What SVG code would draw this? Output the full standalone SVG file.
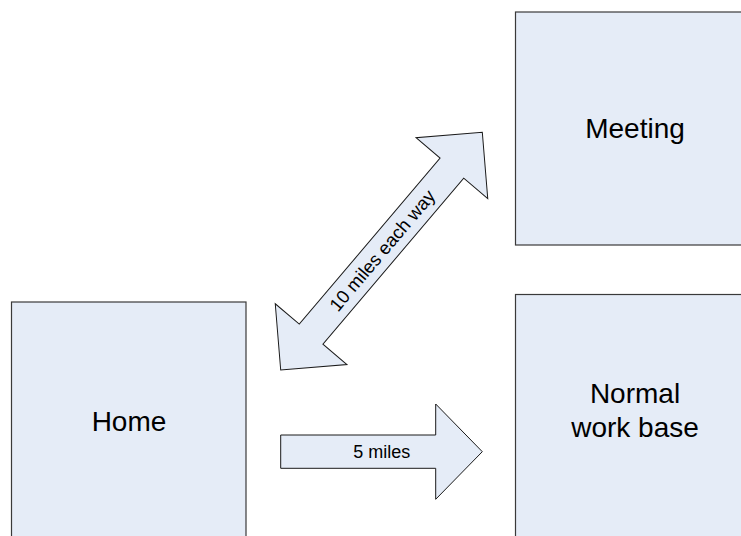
<svg xmlns="http://www.w3.org/2000/svg" width="741" height="536" viewBox="0 0 741 536">
<style>
.box{fill:#E5ECF7;stroke:#3a3a3a;stroke-width:1.2}
.arr{fill:#E5ECF7;stroke:#1a1a1a;stroke-width:1}
.lbl{font-family:"Liberation Sans",Arial,sans-serif;font-size:28px;fill:#000;text-anchor:middle}
.small{font-family:"Liberation Sans",Arial,sans-serif;font-size:18px;fill:#000;text-anchor:middle}
</style>
<rect width="741" height="536" fill="#fff"/>
<g id="home">
<rect class="box" x="11.5" y="302" width="234.5" height="250"/>
<text class="lbl" x="129" y="430.5">Home</text>
</g>
<g id="meeting">
<rect class="box" x="515.5" y="12" width="235" height="233"/>
<text class="lbl" x="635" y="138">Meeting</text>
</g>
<g id="normal-work-base">
<rect class="box" x="515.5" y="294.5" width="235" height="260"/>
<text class="lbl" x="635" y="403">Normal</text>
<text class="lbl" x="635" y="436.5">work base</text>
</g>
<g id="connectors">
<g id="arrow-10-miles" transform="translate(381.5,251.15) rotate(-49.7)">
<polygon class="arr" points="-155.85,0 -108.85,-47 -108.85,-15.5 108.85,-15.5 108.85,-47 155.85,0 108.85,47 108.85,15.5 -108.85,15.5 -108.85,47"/>
<text class="small" x="1" y="6.5" style="font-size:18.5px">10 miles each way</text>
</g>
<g id="arrow-5-miles">
<polygon class="arr" points="280.7,435 435.7,435 435.7,404 482.3,451.7 435.7,499.3 435.7,468.3 280.7,468.3"/>
<text class="small" x="381.7" y="457.5">5 miles</text>
</g>
</g>
</svg>
